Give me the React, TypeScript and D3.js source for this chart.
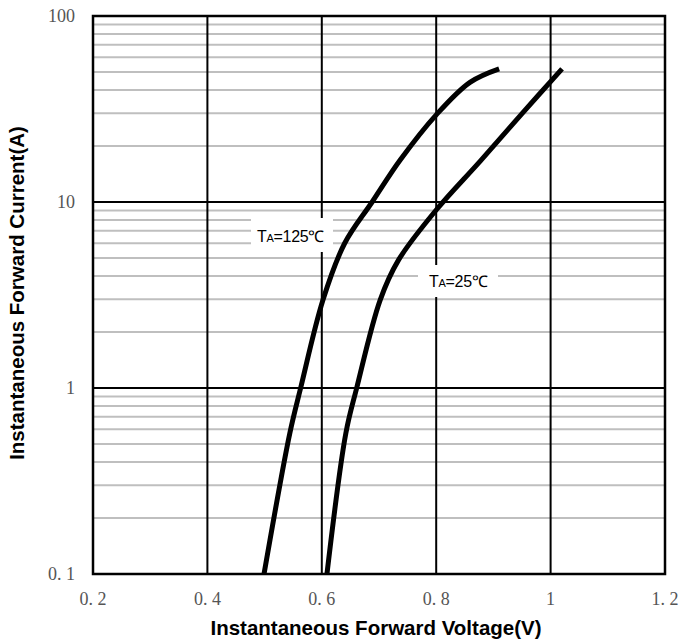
import React from 'react';
import * as d3 from 'd3';

// forward voltage (V) vs current (A)
const hotVolts = [0.499, 0.544, 0.563, 0.602, 0.64, 0.688, 0.737, 0.8, 0.859, 0.91];
const hotAmps = [0.1, 0.57, 1, 2.97, 6, 10, 16.8, 29.4, 44, 52];
const roomVolts = [0.609, 0.642, 0.661, 0.702, 0.734, 0.8, 0.877, 0.95, 1.02];
const roomAmps = [0.1, 0.57, 1, 2.97, 4.87, 9.06, 16.6, 29.9, 52];

const xTicks = [0.2, 0.4, 0.6, 0.8, 1.0, 1.2];
const xTickLabels = ['0. 2', '0. 4', '0. 6', '0. 8', '1', '1. 2'];
const yTicks = [0.1, 1, 10, 100];
const yTickLabels = ['0. 1', '1', '10', '100'];

const width = 682;
const height = 643;
const left = 93;
const right = 665;
const top = 16;
const bottom = 574;

export default function App() {
  const x = d3.scaleLinear().domain([0.2, 1.2]).range([left, right]);
  const y = d3.scaleLog().domain([0.1, 100]).range([bottom, top]);

  const minor: number[] = [];
  [0.1, 1, 10].forEach(dec => {
    for (let k = 2; k <= 9; k++) minor.push(dec * k);
  });

  const line = d3.line<[number, number]>()
    .x(d => x(d[0]))
    .y(d => y(d[1]))
    .curve(d3.curveCatmullRom.alpha(0.5));

  const hot = hotVolts.map((v, i) => [v, hotAmps[i]] as [number, number]);
  const room = roomVolts.map((v, i) => [v, roomAmps[i]] as [number, number]);

  return (
    <svg width={width} height={height} style={{ position: 'absolute', left: 0, top: 0 }}>
      <rect width={width} height={height} fill="#fff" />
      {minor.map(m => (
        <line key={m} x1={left} x2={right} y1={y(m)} y2={y(m)} stroke="#bfbfbf" strokeWidth={2} />
      ))}
      {xTicks.slice(1, -1).map(t => (
        <line key={t} x1={x(t)} x2={x(t)} y1={top} y2={bottom} stroke="#000" strokeWidth={2} />
      ))}
      {yTicks.slice(1, -1).map(t => (
        <line key={t} x1={left} x2={right} y1={y(t)} y2={y(t)} stroke="#000" strokeWidth={2} />
      ))}

      {/* labels sit on white boxes over the grid */}
      <rect x={251} y={218} width={82} height={34} fill="#fff" />
      <text x={257} y={242} fontFamily="Liberation Sans, Arial" fontSize={16} fill="#000" letterSpacing={-0.3}>
        T<tspan fontSize={11}>A</tspan>=125℃
      </text>
      <rect x={418} y={265} width={80} height={32} fill="#fff" />
      <text x={429} y={287} fontFamily="Liberation Sans, Arial" fontSize={16} fill="#000" letterSpacing={-0.3}>
        T<tspan fontSize={11}>A</tspan>=25℃
      </text>

      <path d={line(hot) || ''} fill="none" stroke="#000" strokeWidth={5} />
      <path d={line(room) || ''} fill="none" stroke="#000" strokeWidth={5} />

      <rect x={left} y={top} width={right - left} height={bottom - top} fill="none" stroke="#000" strokeWidth={2.5} />

      {xTicks.map((t, i) => (
        <text key={t} x={x(t)} y={605} textAnchor="middle" fontFamily="Liberation Serif, serif" fontSize={18} fill="#555">
          {xTickLabels[i]}
        </text>
      ))}
      {yTicks.map((t, i) => (
        <text key={t} x={75} y={y(t) + 6} textAnchor="end" fontFamily="Liberation Serif, serif" fontSize={18} fill="#555">
          {yTickLabels[i]}
        </text>
      ))}

      <text x={376} y={635} textAnchor="middle" fontFamily="Liberation Sans, Arial" fontWeight="bold" fontSize={20.5} fill="#000">
        Instantaneous Forward Voltage(V)
      </text>
      <text transform="translate(24,293) rotate(-90)" textAnchor="middle" fontFamily="Liberation Sans, Arial" fontWeight="bold" fontSize={20.5} fill="#000">
        Instantaneous Forward Current(A)
      </text>
    </svg>
  );
}
